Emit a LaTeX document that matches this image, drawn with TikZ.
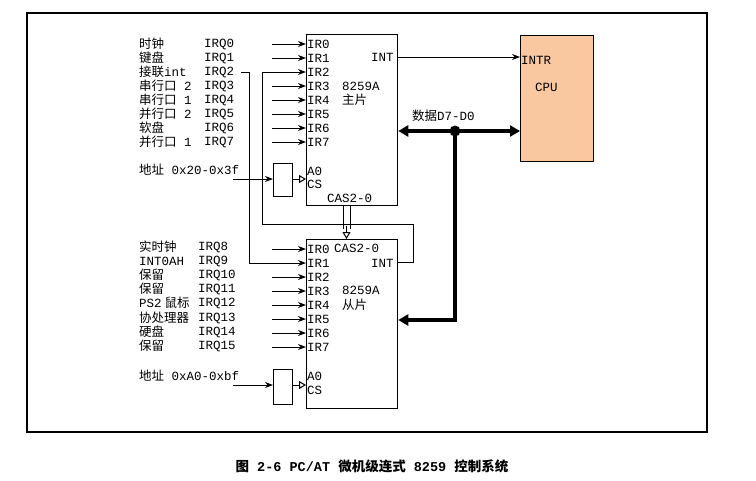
\documentclass[tikz,border=0pt]{standalone}
\usepackage{fontspec}
\setmainfont{Liberation Mono}
\newfontfamily\cjk{Noto Sans CJK SC}
\usetikzlibrary{arrows.meta}
\definecolor{cpuc}{HTML}{F9C8A0}
\begin{document}
\begin{tikzpicture}[x=1pt,y=-1pt,
  txt/.style={anchor=west,inner sep=0pt,font=\fontsize{12.5}{13}\selectfont},
  ln/.style={line width=1pt},
  arr/.style={ln,-{Stealth[length=8pt,width=6pt]}},
  bus/.style={line width=3.4pt},
  busarr/.style={bus,-{Triangle[length=10pt,width=11pt]}},
  hol/.style={ln,-{Triangle[open,length=7pt,width=8pt]}},
  box/.style={draw,line width=1.3pt,inner sep=0pt,anchor=north west}]
\useasboundingbox (0,0) rectangle (756,480);
\draw[line width=1.2pt] (27,13) rectangle (707,432);
% chips
\node[box,minimum width=91pt,minimum height=171pt] (m) at (306,34) {};
\node[box,minimum width=91pt,minimum height=169pt] (s) at (306,239) {};
\node[box,fill=cpuc,minimum width=73pt,minimum height=126pt] (cpu) at (520,35) {};
\node[txt] (intr) at (521,60) {INTR};
\node[txt] (cpul) at (535,87) {CPU};
% master pins
\foreach \i/\y in {0/44,1/58,2/72,3/86,4/100,5/114,6/128,7/142}{
  \node[txt] (mir\i) at (307,\y) {IR\i};
  \coordinate (mi\i) at (306,\y);
}
\foreach \i in {0,1,3,4,5,6,7}{ \draw[arr] ([xshift=-34pt]mi\i) -- (mi\i); }
\node[txt] (ma0) at (307,171) {A0};
\node[txt] (mcs) at (307,184) {CS};
\node[txt] (mint) at (371,57) {INT};
\node[txt] (m8259) at (342,86) {8259A};
\node[txt] (mzp) at (342,100) {\cjk 主片};
\node[txt] (mcas) at (327,198) {CAS2-0};
% slave pins
\foreach \i/\y in {0/249,1/263,2/277,3/291,4/305,5/319,6/333,7/347}{
  \node[txt] (sir\i) at (307,\y) {IR\i};
  \coordinate (si\i) at (306,\y);
}
\foreach \i in {0,2,3,4,5,6,7}{ \draw[arr] ([xshift=-34pt]si\i) -- (si\i); }
\node[txt] (sa0) at (307,376) {A0};
\node[txt] (scs) at (307,390) {CS};
\node[txt] (scas) at (334,248) {CAS2-0};
\node[txt] (sint) at (371,263) {INT};
\node[txt] (s8259) at (342,290) {8259A};
\node[txt] (scp) at (342,305) {\cjk 从片};
% decoders
\node[box,minimum width=19pt,minimum height=33pt] (dm) at (273,163) {};
\node[box,minimum width=19pt,minimum height=35pt] (ds) at (273,369) {};
\node[txt] (addm) at (139,170) {{\cjk 地址} 0x20-0x3f};
\node[txt] (adds) at (139,376) {{\cjk 地址} 0xA0-0xbf};
\coordinate (am) at (233,179); \coordinate (as) at (233,385);
\draw[arr] (am) -- (am -| dm.west);
\draw[arr] (as) -- (as -| ds.west);
\draw[hol] (dm.east |- 0,179) -- (306,179);
\draw[hol] (ds.east |- 0,385) -- (306,385);
% left labels master
\foreach \n/\q/\y in {时钟/IRQ0/44,键盘/IRQ1/58,{接联{\rmfamily int}}/IRQ2/72,{串行口{\rmfamily\ 2}}/IRQ3/86,{串行口{\rmfamily\ 1}}/IRQ4/100,{并行口{\rmfamily\ 2}}/IRQ5/114,软盘/IRQ6/128,{并行口{\rmfamily\ 1}}/IRQ7/142}{
  \node[txt] (lm\q) at (139,\y) {\cjk \n};
  \node[txt] (qm\q) at (204,\y) {\q};
}
\foreach \n/\q/\y in {实时钟/IRQ8/247,{{\rmfamily INT0AH}}/IRQ9/261,保留/IRQ10/275,保留/IRQ11/289,{{\rmfamily PS2} 鼠标}/IRQ12/303,协处理器/IRQ13/318,硬盘/IRQ14/332,保留/IRQ15/346}{
  \node[txt] (ls\q) at (139,\y) {\cjk \n};
  \node[txt] (qs\q) at (198,\y) {\q};
}
% cascade wiring
\coordinate (c1) at (241,72);
\draw[arr] (c1) -- (249,72) -- (249,263) -- (si1);
\coordinate (sintp) at (397,262);
\draw[arr] (sintp) -- (413,262) -- (413,224) -- (262,224) -- (262,72) -- (mi2);
% INT to CPU
\draw[arr] (397,57) -- (cpu.west |- 0,57);
% CAS double line
\draw[ln] (343,205) -- (343,229);
\draw[ln] (350,205) -- (350,229);
\draw[hol] (346.5,226) -- (346.5,239);
% data bus
\coordinate (dot) at (455,131);
\draw[busarr] (dot) -- (m.east |- dot);
\draw[busarr] (dot) -- (cpu.west |- dot);
\draw[busarr] (dot) -- (455,320) -- (s.east |- 0,320);
\fill (dot) circle (5.5pt);
\node[txt] (dlab) at (412,116) {{\cjk 数据}D7-D0};
% caption
\node[font=\fontsize{13.5}{15}\selectfont\bfseries,inner sep=0pt] (cap) at (372,466) {{\cjk\bfseries 图} 2-6 PC/AT {\cjk\bfseries 微机级连式} 8259 {\cjk\bfseries 控制系统}};
\end{tikzpicture}
\end{document}
